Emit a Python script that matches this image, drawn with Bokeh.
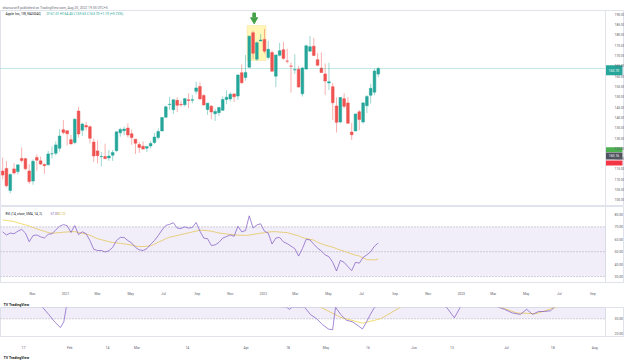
import pandas as pd
from bokeh.plotting import figure
from bokeh.layouts import column
from bokeh.models import Range1d, FixedTicker, Label, BoxAnnotation, NumeralTickFormatter, Title
from bokeh.core.properties import value
from bokeh.embed import file_html
from bokeh.resources import INLINE

FONT = "Roboto"
TEAL = "#26a69a"
RED = "#ef5350"
PURPLE = "#7e57c2"
MA_YELLOW = "#f3dc74"
BORDER = "#e0e3eb"
AXIS_TXT = "#5d606b"

# ---------------- weekly AAPL data (1W) ----------------
first_week = "2020-09-07"
opens = [113.95, 115.23, 104.54, 115.01, 113.70, 120.06, 119.96, 114.01, 109.11, 120.50,
         118.92, 117.18, 116.97, 122.31, 122.60, 125.02, 133.99, 133.52, 129.19, 127.78,
         143.07, 133.75, 136.03, 135.49, 128.01, 123.75, 120.93, 121.03, 120.33, 121.65,
         123.87, 132.52, 133.51, 134.83, 132.04, 129.41, 126.82, 126.01, 125.08, 126.17,
         127.82, 130.30, 133.41, 140.07, 146.21, 143.75, 148.27, 146.36, 146.20, 148.54,
         148.31, 152.66, 155.00, 150.63, 143.80, 145.47, 141.76, 142.27, 143.44, 148.68,
         148.99, 151.41, 150.37, 161.68, 159.37, 164.29, 181.12, 168.28, 177.09, 177.83,
         169.08, 171.51, 160.02, 170.16, 172.86, 167.37, 164.98, 163.06, 163.36, 151.45,
         163.51, 172.17, 174.57, 168.02, 163.92, 161.12, 156.71, 154.93, 145.55, 137.79,
         149.07, 147.03, 132.87, 133.42, 142.70, 137.77, 145.67, 150.74, 152.26, 161.01]
highs = [120.50, 118.83, 112.86, 117.72, 117.00, 125.39, 120.42, 117.28, 119.62, 121.99,
         120.99, 117.62, 123.78, 125.95, 128.37, 134.41, 138.79, 133.61, 131.45, 139.67,
         145.09, 137.42, 137.88, 136.01, 129.72, 128.72, 123.21, 127.22, 124.24, 124.18,
         133.04, 135.00, 135.47, 137.07, 134.07, 129.54, 128.00, 128.32, 125.35, 128.46,
         132.55, 134.64, 140.00, 145.65, 150.00, 148.72, 149.83, 148.04, 149.44, 151.68,
         150.86, 157.26, 157.04, 151.42, 147.08, 145.96, 144.22, 144.90, 150.18, 153.17,
         152.20, 151.57, 161.02, 165.70, 170.30, 179.63, 182.13, 176.85, 180.42, 182.94,
         177.18, 172.54, 170.35, 176.24, 176.65, 173.34, 166.69, 170.70, 165.02, 164.48,
         175.28, 179.61, 178.49, 171.27, 171.53, 166.20, 166.48, 156.74, 149.77, 149.68,
         151.74, 149.87, 137.34, 141.91, 143.49, 147.55, 150.86, 156.28, 163.63, 164.45]
lows = [110.00, 106.09, 103.10, 112.22, 112.25, 118.15, 114.28, 107.72, 107.32, 114.13,
        116.81, 112.59, 116.81, 120.15, 121.54, 123.45, 131.72, 126.38, 126.86, 126.94,
        130.21, 130.93, 133.69, 127.41, 118.39, 117.57, 116.21, 119.68, 118.92, 118.86,
        123.07, 130.63, 131.30, 130.20, 126.70, 122.25, 122.77, 124.55, 123.13, 124.83,
        127.07, 129.21, 133.35, 140.07, 143.63, 141.67, 142.54, 145.18, 145.30, 144.50,
        146.83, 151.29, 148.70, 145.76, 141.27, 139.11, 138.27, 140.70, 143.16, 146.41,
        147.80, 147.48, 148.43, 156.36, 157.80, 164.28, 168.34, 167.46, 177.07, 171.03,
        168.17, 162.30, 154.70, 169.51, 168.04, 166.19, 152.00, 161.14, 154.50, 150.10,
        163.01, 171.94, 169.85, 164.91, 161.50, 150.95, 153.27, 138.80, 132.61, 137.14,
        144.46, 137.06, 129.04, 133.32, 133.77, 136.93, 142.12, 146.70, 150.80, 159.63]
closes = [112.00, 106.84, 112.28, 113.02, 116.97, 119.02, 115.04, 108.86, 118.69, 119.26,
          117.34, 116.59, 122.25, 122.41, 126.66, 130.96, 132.69, 132.05, 127.14, 139.07,
          131.96, 136.76, 135.37, 129.87, 121.26, 121.42, 121.03, 119.99, 121.21, 123.00,
          133.00, 134.16, 134.32, 131.46, 130.21, 127.45, 125.43, 124.61, 125.89, 127.35,
          130.46, 133.11, 139.96, 145.11, 146.39, 148.56, 145.86, 146.14, 149.10, 148.19,
          148.60, 154.30, 148.97, 146.06, 146.92, 142.65, 142.90, 144.84, 148.69, 149.80,
          151.28, 149.99, 160.55, 156.81, 161.84, 179.45, 171.14, 176.28, 177.57, 172.17,
          173.07, 162.41, 170.33, 172.39, 168.64, 167.30, 164.85, 163.17, 154.73, 163.98,
          174.72, 174.31, 170.09, 165.29, 161.79, 157.65, 157.28, 147.11, 137.59, 149.64,
          145.38, 137.13, 131.56, 141.66, 138.93, 147.04, 150.17, 154.09, 162.51, 163.70]

rsi_values = [66.0, 63.5, 65.0, 64.5, 66.5, 68.0, 65.0, 58.0, 63.0, 63.5,
              62.0, 61.0, 64.0, 64.5, 67.5, 70.5, 71.8, 71.0, 65.5, 71.0,
              63.8, 66.0, 64.5, 59.0, 52.0, 51.0, 51.0, 49.8, 50.8, 53.5,
              59.0, 61.5, 61.5, 59.0, 57.0, 53.5, 51.5, 51.0, 52.5, 56.0,
              59.0, 63.0, 67.5, 71.2, 72.0, 73.3, 69.0, 68.7, 70.0, 69.0,
              69.5, 73.5, 66.5, 61.0, 60.5, 55.0, 55.5, 57.5, 61.0, 62.2,
              63.5, 62.4, 70.5, 66.0, 67.0, 78.9, 69.0, 71.5, 72.5, 66.5,
              65.0, 56.2, 61.0, 61.5, 58.0, 56.5, 54.5, 52.5, 46.5, 52.5,
              60.0, 59.5, 56.0, 53.0, 50.5, 47.5, 46.0, 41.5, 34.5, 43.0,
              41.5, 38.0, 34.8, 41.5, 40.8, 45.5, 47.5, 50.0, 54.5, 57.0]
rsi_ma_values = [75.6, 75.1, 74.7, 74.3, 73.3, 72.4, 71.6, 70.7, 69.5, 68.4,
                 67.4, 66.4, 65.4, 64.9, 65.1, 65.4, 65.7, 65.9, 66.1, 66.2,
                 65.5, 64.8, 64.2, 63.3, 61.8, 60.5, 59.7, 58.9, 58.0, 57.4,
                 57.1, 56.8, 56.3, 55.9, 55.3, 54.6, 54.1, 54.2, 54.4, 54.7,
                 56.0, 57.6, 59.0, 60.5, 61.7, 62.3, 63.0, 63.8, 64.5, 65.2,
                 65.9, 66.6, 67.4, 67.2, 66.9, 66.5, 65.8, 65.1, 64.7, 64.3,
                 63.9, 63.6, 63.4, 63.2, 63.1, 63.4, 63.9, 64.4, 64.9, 65.3,
                 65.8, 66.1, 66.1, 65.8, 65.6, 65.4, 64.5, 63.6, 62.8, 61.4,
                 60.6, 60.0, 59.3, 57.6, 56.4, 55.3, 54.5, 53.6, 52.5, 51.4,
                 50.5, 49.3, 48.2, 47.2, 46.5, 45.0, 43.7, 43.5, 43.4, 44.0]

price_ticks = [100, 105, 110, 115, 120, 125, 130, 135, 140, 145, 150, 155, 160, 165, 170, 175, 180, 185, 190]
rsi_ticks = [30, 40, 50, 60, 70, 80]
rsi_levels = [70, 50, 30]

time_tick_dates = ["2020-11-01", "2021-01-01", "2021-03-01", "2021-05-01", "2021-07-01", "2021-09-01",
                   "2021-11-01", "2022-01-01", "2022-03-01", "2022-05-01", "2022-07-01", "2022-09-01",
                   "2022-11-01", "2023-01-01", "2023-03-01", "2023-05-01", "2023-07-01", "2023-09-01"]
time_tick_labels = ["Nov", "2021", "Mar", "May", "Jul", "Sep", "Nov", "2022", "Mar", "May", "Jul", "Sep",
                    "Nov", "2023", "Mar", "May", "Jul", "Sep"]

# highlighted zone (rectangle drawing + arrow)
hl_start, hl_end = "2021-12-02", "2022-01-06"
hl_low, hl_high = 167.6, 184.6
arrow_date = "2021-12-15"
arrow_head_price, arrow_stem_price = 187.4, 189.7

# price-scale badges
badge_prices = [162.9, 124.3, 121.3, 117.9]
badge_texts = ["163.70", "", "160.16", ""]
badge_colors = [TEAL, "#4caf50", "#50535e", "#f23645"]
badge_heights = [10, 5, 7, 5]

# ---------------- lower strip: daily RSI crop (2022) ----------------
lower_tick_idx = [0, 11, 20, 27, 39, 53, 63, 72, 82, 93, 102, 115, 126, 136]
lower_tick_labels = ["17", "Feb", "14", "Mar", "14", "Apr", "18", "May", "16", "Jun", "13", "Jul", "18", "Aug"]
lower_rsi_idx = [0, 4.5, 6, 7.4, 8.8, 9.6, 10.2, 20, 62.6, 63.3, 64, 66.9, 68.3, 69.8, 71.2, 72.6,
                 73.6, 74.3, 75.5, 76.9, 78.3, 79.8, 80.7, 81.7, 82.6, 83.6, 92, 100.7, 102.6, 104,
                 108, 113, 114.5, 116.4, 118.3, 119.8, 121.2, 122.6, 124, 125.5, 126.4, 130]
lower_rsi_vals = [45, 38, 33, 28, 24, 28, 38, 48, 38, 36.5, 38, 38, 33, 30, 26, 23,
                  22.5, 38, 33, 29, 28, 25, 23, 28, 33, 38, 45, 38, 30.7, 38,
                  45, 38, 36.5, 34, 33, 36.5, 33, 35, 35, 35.5, 38, 45]
lower_ma_idx = [66, 70.7, 75.5, 80.7, 85, 89.8, 95, float("nan"), 113.5, 117.4, 122, 126.9, 130]
lower_ma_vals = [42, 38, 31, 27, 30, 38, 42, float("nan"), 38, 34, 33.5, 38, 42]


def ms(d):
    return pd.Timestamp(d).value / 1e6


DAY = 86400000
PX_PER_DAY = 0.542
weeks = pd.date_range(first_week, periods=len(closes), freq="7D")
x0 = ms("2020-09-03")
x_pane_end = x0 + 605 / PX_PER_DAY * DAY      # where the price scale begins
x_end = x0 + 624 / PX_PER_DAY * DAY
shared_x = Range1d(x0, x_end)


def style_common(f):
    f.grid.visible = False
    f.outline_line_color = BORDER
    f.background_fill_color = "white"
    f.border_fill_color = "white"


def style_yaxis(ax, loc):
    ax.fixed_location = loc
    ax.axis_line_color = BORDER
    ax.major_tick_line_color = None
    ax.minor_tick_line_color = None
    ax.major_label_text_font = FONT
    ax.major_label_text_font_size = "3.4px"
    ax.major_label_text_color = AXIS_TXT
    ax.major_label_standoff = 3
    ax.formatter = NumeralTickFormatter(format="0.00")


def style_xaxis(ax):
    ax.axis_line_color = BORDER
    ax.major_tick_line_color = None
    ax.minor_tick_line_color = None
    ax.major_label_text_font = FONT
    ax.major_label_text_font_size = "3.4px"
    ax.major_label_text_color = AXIS_TXT
    ax.major_label_standoff = 3


# ---------------- main price pane ----------------
p = figure(width=624, height=206, x_range=shared_x, y_range=Range1d(96.75, 191.89),
           output_backend="svg", toolbar_location=None, y_axis_location="right",
           x_axis_location=None, min_border_left=0, min_border_right=0,
           min_border_top=10, min_border_bottom=0)
style_common(p)
style_yaxis(p.yaxis[0], x_pane_end)
p.yaxis.ticker = FixedTicker(ticks=price_ticks)
p.title.text = "shanuzunfl published on TradingView.com, Aug 20, 2022 19:35 UTC+5"
p.title.text_font = FONT
p.title.text_font_size = "3.4px"
p.title.text_font_style = "normal"
p.title.text_color = "#6a6d78"
p.title.offset = 2
p.title.standoff = 2

p.add_layout(BoxAnnotation(left=ms(hl_start), right=ms(hl_end), bottom=hl_low, top=hl_high,
                           fill_color="#fff3a0", fill_alpha=0.75, line_color="#f6cf76",
                           line_width=1, level="underlay"))

up = [c >= o for o, c in zip(opens, closes)]
colors = [TEAL if u else RED for u in up]
body_w = 5 * DAY
p.segment(x0=weeks, y0=lows, x1=weeks, y1=highs, color=colors, line_width=1, line_alpha=0.45)
p.vbar(x=weeks, width=body_w, top=[max(o, c) for o, c in zip(opens, closes)],
       bottom=[min(o, c) for o, c in zip(opens, closes)], fill_color=colors, line_color=colors,
       line_width=0.5)

p.segment(x0=[x0], x1=[x_pane_end], y0=[closes[-1]], y1=[closes[-1]], line_color=TEAL,
          line_alpha=0.55, line_dash="1 1", line_width=1)

p.rect(x=[ms(arrow_date)], y=[arrow_stem_price], width=2.6, height=4, width_units="screen",
       height_units="screen", color="#43a047")
p.scatter(x=[ms(arrow_date)], y=[arrow_head_price], marker="inverted_triangle", size=7,
          color="#43a047")

lab_x = x0 + 5 / PX_PER_DAY * DAY
p.add_layout(Label(x=lab_x, y=190.3, text="Apple Inc, 1W, NASDAQ", text_font=FONT,
                   text_font_size="3.4px", text_color="#131722", text_baseline="middle"))
p.add_layout(Label(x=x0 + 46 / PX_PER_DAY * DAY, y=190.3,
                   text="O161.01  H164.45  L159.63  C163.70  +1.19 (+0.73%)", text_font=FONT,
                   text_font_size="3.4px", text_color=TEAL, text_baseline="middle"))

badge_x = x0 + 613.5 / PX_PER_DAY * DAY
p.rect(x=[badge_x] * len(badge_prices), y=badge_prices, width=17, height=badge_heights,
       width_units="screen", height_units="screen", fill_color=badge_colors, line_color=None)
p.text(x=[badge_x] * len(badge_prices), y=badge_prices, text=badge_texts, text_font=value(FONT),
       text_font_size=value("3.4px"), text_color="white", text_align="center",
       text_baseline="middle")

# ---------------- RSI pane ----------------
r = figure(width=624, height=92, x_range=shared_x, y_range=Range1d(25.25, 86.38),
           output_backend="svg", toolbar_location=None, y_axis_location="right",
           min_border_left=0, min_border_right=0, min_border_top=0, min_border_bottom=11)
style_common(r)
style_yaxis(r.yaxis[0], x_pane_end)
r.yaxis.ticker = FixedTicker(ticks=rsi_ticks)
r.add_layout(BoxAnnotation(left=x0, right=x_pane_end, bottom=30, top=70, fill_color=PURPLE,
                           fill_alpha=0.1, line_alpha=0))
r.segment(x0=[x0] * len(rsi_levels), x1=[x_pane_end] * len(rsi_levels), y0=rsi_levels,
          y1=rsi_levels, line_color="#9598a1", line_alpha=0.8, line_dash="1 2", line_width=1)
r.line(x=weeks, y=rsi_ma_values, color=MA_YELLOW, line_width=1)
r.line(x=weeks, y=rsi_values, color=PURPLE, line_width=1, line_alpha=0.7)
xa = r.xaxis[0]
tick_ms = [ms(d) for d in time_tick_dates]
xa.ticker = FixedTicker(ticks=tick_ms)
xa.major_label_overrides = {t: l for t, l in zip(tick_ms, time_tick_labels)}
style_xaxis(xa)
r.add_layout(Label(x=lab_x, y=80.4, text="RSI (14, close, SMA, 14, 2)", text_font=FONT,
                   text_font_size="3.2px", text_color="#131722", text_baseline="middle"))
r.add_layout(Label(x=x0 + 50 / PX_PER_DAY * DAY, y=80.4, text="57.01", text_font=FONT,
                   text_font_size="3.2px", text_color=PURPLE, text_baseline="middle"))
r.add_layout(Label(x=x0 + 57 / PX_PER_DAY * DAY, y=80.4, text="52.22", text_font=FONT,
                   text_font_size="3.2px", text_color="#d4b52a", text_baseline="middle"))

# ---------------- lower strip ----------------
LPX = 4.2
q = figure(width=624, height=62, x_range=Range1d(-23 / LPX, (624 - 23) / LPX),
           y_range=Range1d(17.88, 37.74),
           output_backend="svg", toolbar_location=None, y_axis_location="right",
           min_border_left=0, min_border_right=0, min_border_top=9, min_border_bottom=24)
style_common(q)
q_pane_end = (605 - 23) / LPX
style_yaxis(q.yaxis[0], q_pane_end)
q.yaxis.ticker = FixedTicker(ticks=[20, 30])
q.add_layout(BoxAnnotation(left=-23 / LPX, right=q_pane_end, bottom=30, top=70, fill_color=PURPLE,
                           fill_alpha=0.1, line_alpha=0))
q.segment(x0=[-23 / LPX], x1=[q_pane_end], y0=[30], y1=[30], line_color="#9598a1", line_alpha=0.8,
          line_dash="1 2", line_width=1)
q.line(x=lower_ma_idx, y=lower_ma_vals, color=MA_YELLOW, line_width=1)
q.line(x=lower_rsi_idx, y=lower_rsi_vals, color=PURPLE, line_width=1, line_alpha=0.7)
qa = q.xaxis[0]
qa.ticker = FixedTicker(ticks=lower_tick_idx)
qa.major_label_overrides = {t: l for t, l in zip(lower_tick_idx, lower_tick_labels)}
style_xaxis(qa)

q.title.text = "TV TradingView"
q.title.text_font = FONT
q.title.text_font_size = "3.6px"
q.title.text_font_style = "bold"
q.title.text_color = "#131722"
q.title.offset = 3
q.title.standoff = 1
q.add_layout(Title(text="TV TradingView", text_font=FONT, text_font_size="3.6px",
                   text_font_style="bold", text_color="#131722", offset=3, standoff=2), "below")

layout = column(p, r, q, spacing=0)
open("out.html", "w").write(file_html(layout, INLINE))
